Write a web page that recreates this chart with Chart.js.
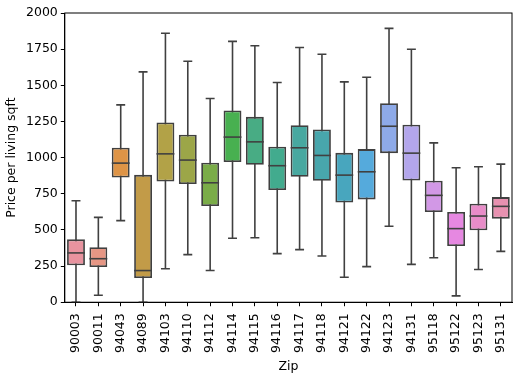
<!DOCTYPE html>
<html>
<head>
<meta charset="utf-8">
<script src="https://cdn.jsdelivr.net/npm/chart.js@4"></script>
<style>
  html, body { margin: 0; padding: 0; background: #fff; }
  #wrap { width: 532px; height: 385px; }
</style>
</head>
<body>
<div id="wrap"><canvas id="mycanvas" width="532" height="385"></canvas></div>
<script>
var zips = ['90003','90011','94043','94089','94103','94110','94112','94114','94115','94116',
            '94117','94118','94121','94122','94123','94131','95118','95122','95123','95131'];
var whiskerLow  = [0, 48, 564, 0, 232, 329, 219, 442, 446, 336, 364, 320, 173, 246, 525, 262, 308, 44, 226, 352];
var q1          = [255, 244, 863, 168, 835, 817, 665, 969, 950, 776, 868, 840, 690, 711, 1031, 842, 624, 389, 497, 578];
var medians     = [341, 301, 962, 219, 1026, 983, 826, 1142, 1109, 944, 1068, 1015, 879, 902, 1217, 1031, 739, 509, 596, 663];
var q3          = [435, 380, 1068, 881, 1243, 1158, 964, 1326, 1282, 1075, 1224, 1194, 1033, 1059, 1376, 1227, 840, 624, 681, 727];
var whiskerHigh = [702, 587, 1365, 1593, 1860, 1666, 1409, 1804, 1774, 1519, 1761, 1715, 1524, 1556, 1894, 1749, 1102, 930, 937, 955];
var yTicks = [0, 250, 500, 750, 1000, 1250, 1500, 1750, 2000];

var boxColors = ['#e8939f','#e69684','#de9446','#c29b48','#b2a247','#9ca648','#7aac48','#48b050','#48ac84','#42ab8e',
                 '#48a8a0','#48a6ac','#48a6be','#55aadc','#8eaae8','#b3a6eb','#d298e6','#e688e1','#e88cc8','#e891b0'];
var edge = 'rgb(64,64,64)';

var boxes = [];
for (var i in zips) {
  boxes.push([q1[i], q3[i]]);
}

// whiskers, caps, medians and the frame
var boxPlugin = {
  id: 'boxlines',
  beforeDatasetsDraw: function(chart) {
    var ctx = chart.ctx, y = chart.scales.y;
    var bars = chart.getDatasetMeta(0).data;
    ctx.save();
    ctx.strokeStyle = edge;
    ctx.lineWidth = 1.6;
    for (var i = 0; i < bars.length; i++) {
      var x = bars[i].x, hw = bars[i].width / 4;
      ctx.beginPath();
      ctx.moveTo(x, y.getPixelForValue(whiskerLow[i]));
      ctx.lineTo(x, y.getPixelForValue(whiskerHigh[i]));
      ctx.moveTo(x - hw, y.getPixelForValue(whiskerLow[i]));
      ctx.lineTo(x + hw, y.getPixelForValue(whiskerLow[i]));
      ctx.moveTo(x - hw, y.getPixelForValue(whiskerHigh[i]));
      ctx.lineTo(x + hw, y.getPixelForValue(whiskerHigh[i]));
      ctx.stroke();
    }
    ctx.restore();
  },
  afterDatasetsDraw: function(chart) {
    var ctx = chart.ctx, y = chart.scales.y, a = chart.chartArea;
    var bars = chart.getDatasetMeta(0).data;
    ctx.save();
    ctx.strokeStyle = edge;
    ctx.lineWidth = 1.6;
    for (var i = 0; i < bars.length; i++) {
      var x = bars[i].x, hw = bars[i].width / 2;
      var m = y.getPixelForValue(medians[i]);
      ctx.beginPath();
      ctx.moveTo(x - hw, m);
      ctx.lineTo(x + hw, m);
      ctx.stroke();
    }
    ctx.strokeStyle = '#000';
    ctx.lineWidth = 1;
    ctx.strokeRect(a.left, a.top, a.right - a.left, a.bottom - a.top);
    ctx.restore();
  }
};

var ctx = document.getElementById('mycanvas');
var chart = new Chart(ctx, {
  type: 'bar',
  data: {
    labels: zips,
    datasets: [{
      label: 'Price per living sqft',
      data: boxes,
      backgroundColor: boxColors,
      borderColor: edge,
      borderWidth: 1.8,
      borderSkipped: false,
      barPercentage: 0.8,
      categoryPercentage: 1.0
    }]
  },
  options: {
    responsive: false,
    animation: false,
    devicePixelRatio: 1,
    layout: { padding: { left: 4, right: 20, top: 13, bottom: 11 } },
    plugins: {
      legend: { display: false },
      tooltip: { enabled: false }
    },
    scales: {
      x: {
        grid: { display: true, drawOnChartArea: false, offset: false, tickLength: 4, color: '#000' },
        border: { color: '#000' },
        ticks: {
          color: '#000', maxRotation: 90, minRotation: 90, padding: 7, autoSkip: false,
          font: { family: 'DejaVu Sans', size: 12.5 }
        },
        title: {
          display: true, text: 'Zip', color: '#000', padding: { top: -1, bottom: 0 },
          font: { family: 'DejaVu Sans', size: 12.5 }
        }
      },
      y: {
        min: 0, max: 2000,
        afterBuildTicks: function(axis) {
          axis.ticks = yTicks.map(function(v) { return { value: v }; });
        },
        grid: { display: true, drawOnChartArea: false, tickLength: 4, color: '#000' },
        border: { color: '#000' },
        ticks: {
          color: '#000', padding: 3,
          font: { family: 'DejaVu Sans', size: 12.5 },
          callback: function(v) { return String(v); }
        },
        title: {
          display: true, text: 'Price per living sqft', color: '#000', padding: { top: 0, bottom: 4 },
          font: { family: 'DejaVu Sans', size: 12.5 }
        }
      }
    }
  },
  plugins: [boxPlugin]
});
</script>
</body>
</html>
